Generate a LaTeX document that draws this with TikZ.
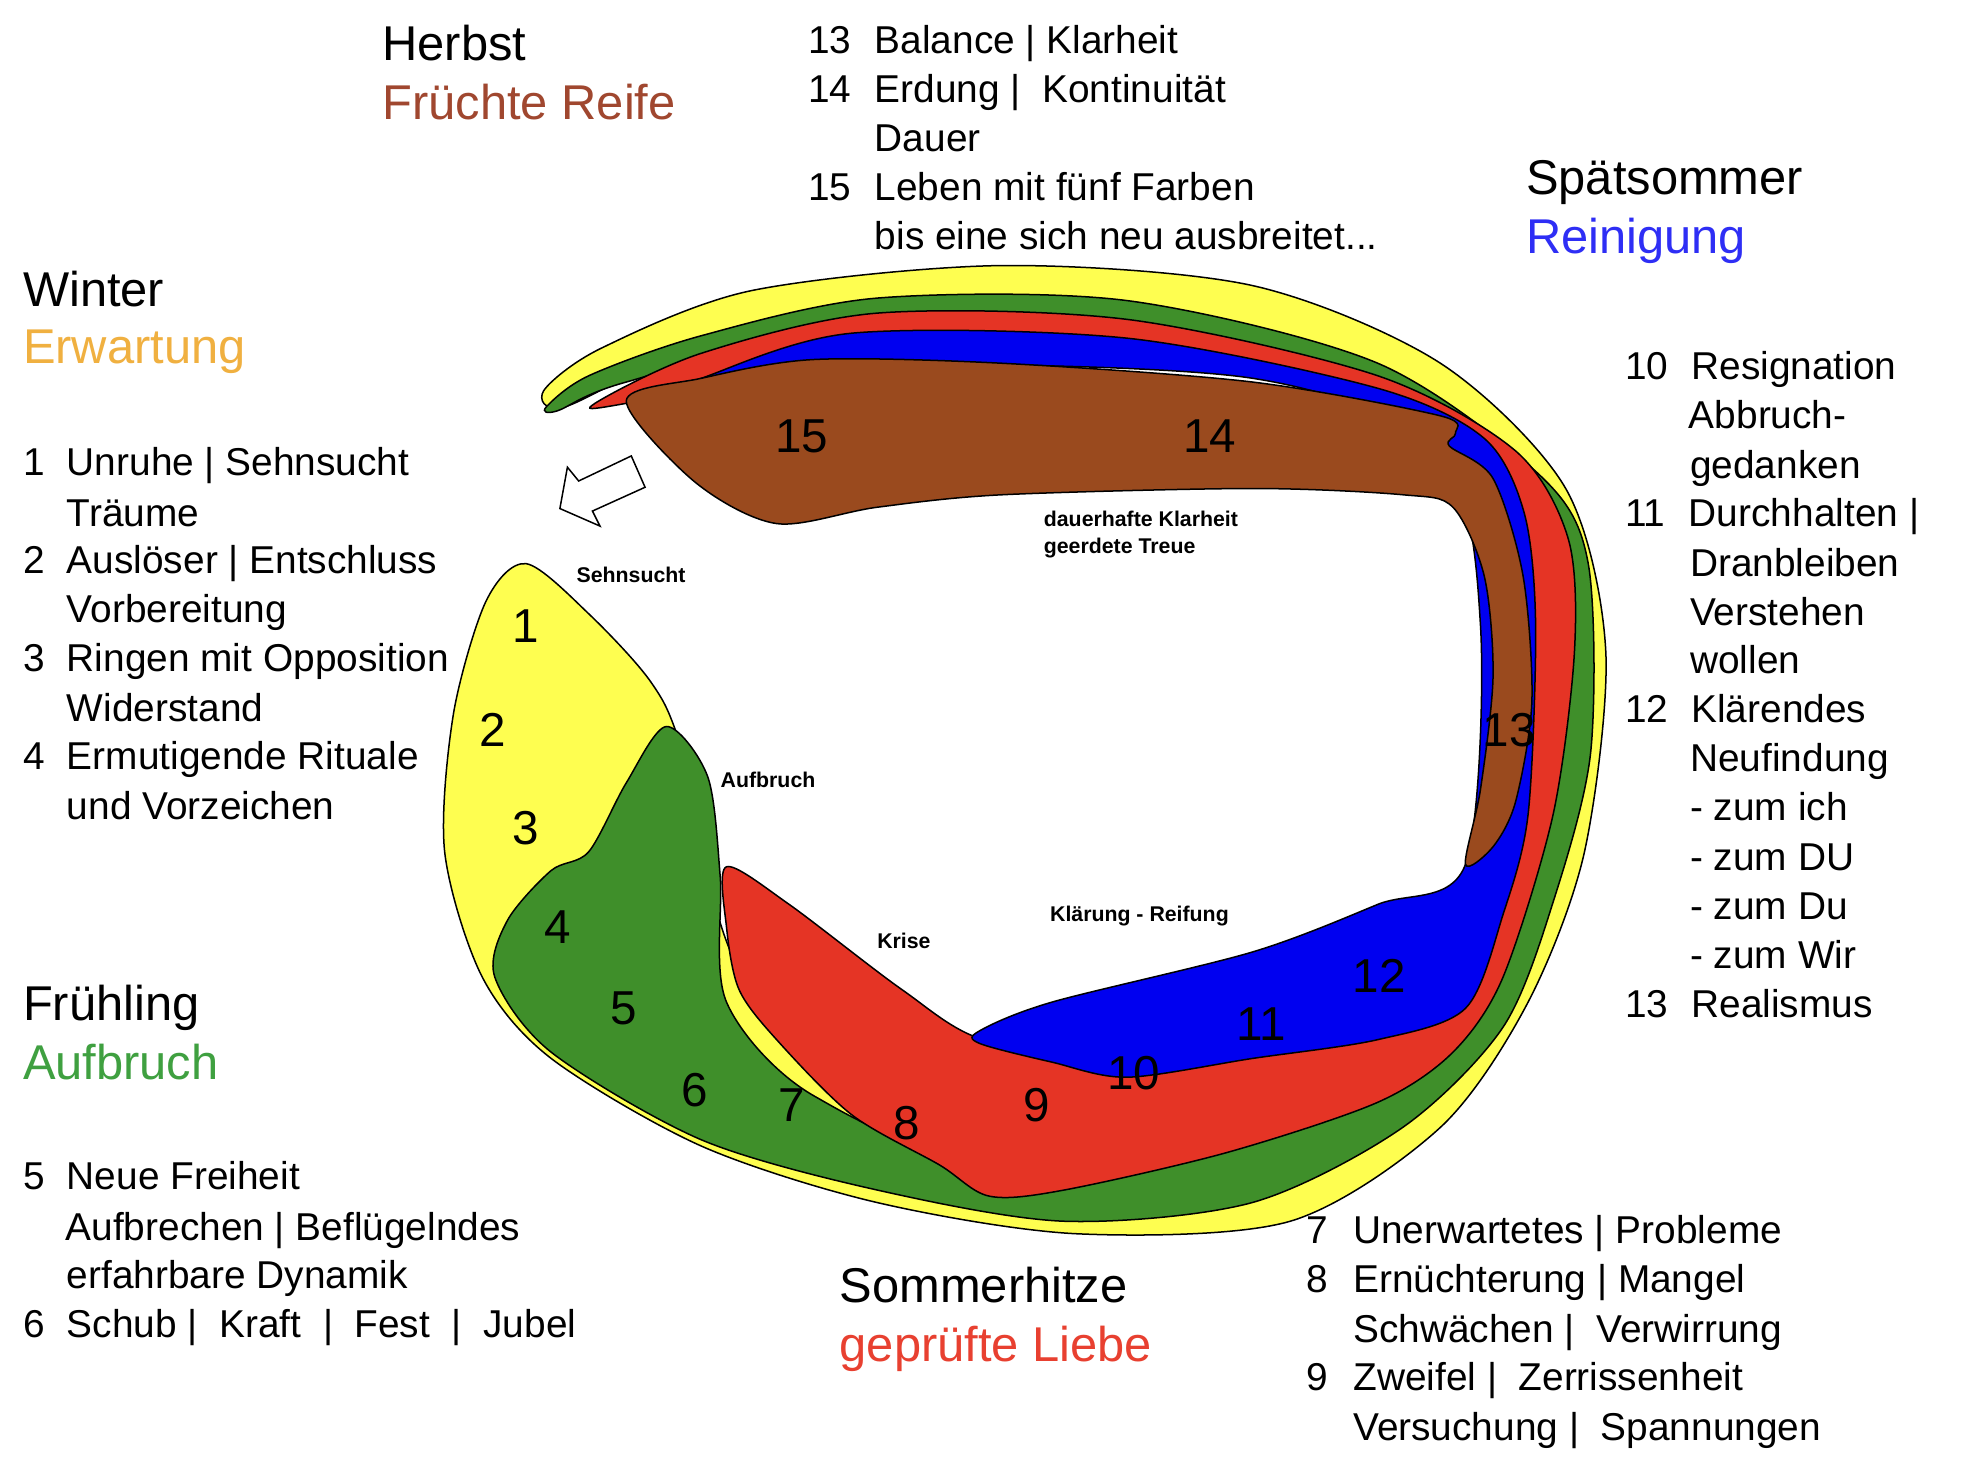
\documentclass[tikz,border=0pt]{standalone}
\usepackage{fontspec}
\setmainfont{Liberation Sans}
\begin{document}
\begin{tikzpicture}[x=0.5pt,y=-0.5pt,
 band/.style={draw=black,line width=0.6pt},
 t/.style={anchor=base west,inner sep=0pt,font=\fontsize{15.5}{18}\selectfont},
 h/.style={anchor=base west,inner sep=0pt,font=\fontsize{19.5}{22}\selectfont},
 num/.style={inner sep=0pt,font=\fontsize{19}{22}\selectfont},
 sm/.style={anchor=base west,inner sep=0pt,font=\fontsize{8.5}{10}\selectfont\bfseries}]
\definecolor{cy}{HTML}{FEFE50}\definecolor{cg}{HTML}{3F8F2A}\definecolor{cr}{HTML}{E53425}
\definecolor{cb}{HTML}{0000F0}\definecolor{cbr}{HTML}{9A4A1E}
\useasboundingbox (0,0) rectangle (1568,1174);
\fill[white] (0,0) rectangle (1568,1174);
% yellow
\draw[band,fill=cy] plot[smooth cycle,tension=0.5] coordinates{(434,312)(480,278)(600,232)(800,212)(1000,228)(1150,290)(1250,390)(1282,520)(1265,680)(1220,800)(1150,900)(1030,975)(860,985)(700,960)(560,915)(440,845)(385,780)(355,680)(362,570)(388,480)(420,450)(470,490)(520,545)(545,600)(600,790)(800,925)(1150,845)(1245,600)(1230,430)(1100,305)(800,250)(550,285)(450,325)};
% green
\draw[band,fill=cg] plot[smooth cycle,tension=0.5] coordinates{(436,325)(470,300)(560,268)(700,238)(900,240)(1100,290)(1230,380)(1268,450)(1270,600)(1240,720)(1200,820)(1120,900)(1000,960)(850,975)(700,950)(560,910)(440,840)(395,780)(405,735)(440,695)(470,680)(500,625)(532,580)(565,620)(575,700)(580,800)(650,875)(800,925)(1100,865)(1218,700)(1238,450)(1180,345)(1000,275)(700,258)(500,305)(445,328)};
% red
\draw[band,fill=cr] plot[smooth cycle,tension=0.5] coordinates{(475,322)(560,282)(700,250)(900,255)(1100,300)(1210,360)(1252,430)(1257,520)(1240,650)(1200,780)(1160,840)(1100,880)(980,920)(850,950)(790,955)(750,930)(680,890)(620,830)(590,790)(580,740)(580,692)(630,722)(720,790)(785,830)(900,845)(1150,800)(1200,650)(1220,450)(1180,352)(1000,292)(700,282)(500,322)};
% blue
\draw[band,fill=cb] plot[smooth cycle,tension=0.5] coordinates{(515,322)(560,302)(680,266)(900,270)(1100,310)(1185,350)(1217,410)(1226,500)(1220,650)(1200,730)(1170,805)(1100,830)(1000,845)(900,860)(840,848)(782,833)(782,823)(840,800)(1000,760)(1100,722)(1170,690)(1182,500)(1150,362)(1000,302)(700,292)(540,320)};
% brown
\draw[band,fill=cbr] plot[smooth cycle,tension=0.5] coordinates{(500,320)(560,302)(650,287)(800,290)(1000,305)(1150,332)(1162,346)(1157,356)(1192,382)(1216,460)(1223,560)(1210,640)(1192,676)(1170,690)(1182,630)(1192,540)(1185,460)(1160,405)(1120,395)(1000,390)(800,395)(700,405)(620,418)(555,385)};
% arrow
\draw[line width=0.6pt,fill=white] (447,406)--(453,373)--(462,384)--(504,364)--(515,389)--(473,408)--(479,420)--cycle;
% numbers
\foreach \n/\x/\y in {1/420/500,2/393/583,3/420/661,4/445/740,5/498/805,6/555/870,7/632/882,8/724/897,9/828/882,10/905/857,11/1007/818,12/1101/779,13/1205/583,14/966/348,15/640/348}
 \node[num] (n\n) at (\x,\y) {\n};
% small labels
\node[sm] (s1) at (460,465) {Sehnsucht};
\node[sm] (s2) at (575,629) {Aufbruch};
\node[sm] (s3) at (700,757) {Krise};
\node[sm] (s4) at (838,736) {Klärung - Reifung};
\node[sm] (s5) at (833,420) {dauerhafte Klarheit};
\node[sm] (s6) at (833,442) {geerdete Treue};
% titles
\node[h] (w1) at (18,245) {Winter};
\node[h,text={rgb,255:red,240;green,176;blue,64}] (w2) at (18,290) {Erwartung};
\node[h] (f1) at (18,815) {Frühling};
\node[h,text={rgb,255:red,63;green,160;blue,64}] (f2) at (18,862) {Aufbruch};
\node[h] (he1) at (305,48) {Herbst};
\node[h,text={rgb,255:red,160;green,71;blue,47}] (he2) at (305,95) {Früchte Reife};
\node[h] (sp1) at (1218,155) {Spätsommer};
\node[h,text={rgb,255:red,46;green,46;blue,245}] (sp2) at (1218,202) {Reinigung};
\node[h] (so1) at (670,1040) {Sommerhitze};
\node[h,text={rgb,255:red,232;green,64;blue,48}] (so2) at (670,1087) {geprüfte Liebe};
% left list
\node[t] (a1) at (18,380) {1}; \node[t] (a1t) at (53,380) {Unruhe | Sehnsucht};
\node[t] (a1b) at (53,420) {Träume};
\node[t] (a2) at (18,458) {2}; \node[t] (a2t) at (53,458) {Auslöser | Entschluss};
\node[t] (a2b) at (53,497) {Vorbereitung};
\node[t] (a3) at (18,536) {3}; \node[t] (a3t) at (53,536) {Ringen mit Opposition};
\node[t] (a3b) at (53,576) {Widerstand};
\node[t] (a4) at (18,614) {4}; \node[t] (a4t) at (53,614) {Ermutigende Rituale};
\node[t] (a4b) at (53,654) {und Vorzeichen};
\node[t] (b5) at (18,950) {5}; \node[t] (b5t) at (53,950) {Neue Freiheit};
\node[t] (b5b) at (52,990) {Aufbrechen | Beflügelndes};
\node[t] (b5c) at (53,1029) {erfahrbare Dynamik};
\node[t] (b6) at (18,1068) {6}; \node[t] (b6t) at (53,1068) {Schub |\ \ Kraft\ \ |\ \ Fest\ \ |\ \ Jubel};
% top list
\node[t] (c13) at (645,43) {13}; \node[t] (c13t) at (698,43) {Balance | Klarheit};
\node[t] (c14) at (645,82) {14}; \node[t] (c14t) at (698,82) {Erdung |\ \ Kontinuität};
\node[t] (c14b) at (698,121) {Dauer};
\node[t] (c15) at (645,160) {15}; \node[t] (c15t) at (698,160) {Leben mit fünf Farben};
\node[t] (c15b) at (698,199) {bis eine sich neu ausbreitet...};
% right list
\node[t] (d10) at (1297,303) {10}; \node[t] (d10t) at (1350,303) {Resignation};
\node[t] (d10b) at (1348,342) {Abbruch-};
\node[t] (d10c) at (1349,382) {gedanken};
\node[t] (d11) at (1297,420) {11}; \node[t] (d11t) at (1348,420) {Durchhalten |};
\node[t] (d11b) at (1349,460) {Dranbleiben};
\node[t] (d11c) at (1349,499) {Verstehen};
\node[t] (d11d) at (1349,538) {wollen};
\node[t] (d12) at (1297,577) {12}; \node[t] (d12t) at (1350,577) {Klärendes};
\node[t] (d12b) at (1349,616) {Neufindung};
\node[t] (d12c) at (1349,655) {- zum ich};
\node[t] (d12d) at (1349,695) {- zum DU};
\node[t] (d12e) at (1349,734) {- zum Du};
\node[t] (d12f) at (1349,773) {- zum Wir};
\node[t] (d13) at (1297,812) {13}; \node[t] (d13t) at (1350,812) {Realismus};
% bottom right list
\node[t] (e7) at (1043,993) {7}; \node[t] (e7t) at (1080,993) {Unerwartetes | Probleme};
\node[t] (e8) at (1043,1032) {8}; \node[t] (e8t) at (1080,1032) {Ernüchterung | Mangel};
\node[t] (e8b) at (1080,1072) {Schwächen |\ \ Verwirrung};
\node[t] (e9) at (1043,1110) {9}; \node[t] (e9t) at (1080,1110) {Zweifel |\ \ Zerrissenheit};
\node[t] (e9b) at (1080,1150) {Versuchung |\ \ Spannungen};
\end{tikzpicture}
\end{document}
